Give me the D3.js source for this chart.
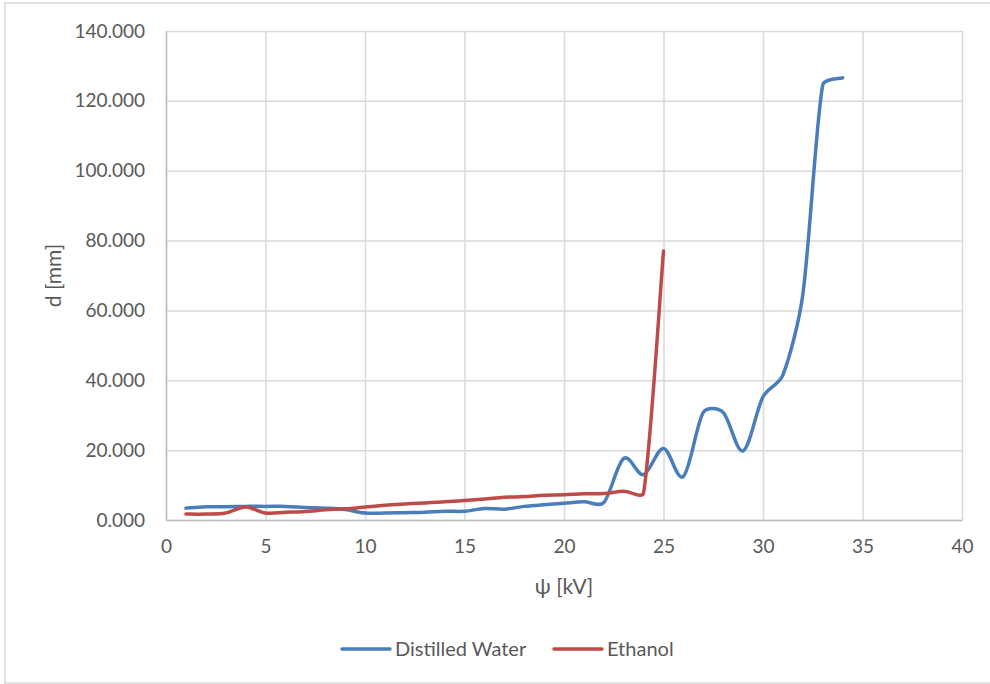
<!DOCTYPE html>
<html>
<head>
<meta charset="utf-8">
<script src="https://cdn.jsdelivr.net/npm/d3@7"></script>
<style>
  body { margin: 0; background: #fff; }
  svg text { font-family: Lato, "Open Sans", sans-serif; fill: #595959; }
</style>
</head>
<body>
<div id="chart"></div>
<script>
// x values in kV
const waterX = [1, 2, 3, 4, 5, 6, 7, 8, 9, 10, 11, 12, 13, 14, 15, 16, 17,
  18, 19, 20, 21, 22, 23, 24, 25, 26, 27, 28, 29, 30, 31, 32, 33, 34];
const waterY = [3.4, 3.8, 3.8, 3.9, 3.9, 3.9, 3.6, 3.4, 3.0, 2.0, 2.0, 2.1,
  2.2, 2.5, 2.5, 3.3, 3.1, 3.9, 4.4, 4.8, 5.2, 5.0, 17.6, 13.0, 20.5, 12.5,
  30.8, 30.8, 19.8, 35.3, 41.5, 64.5, 124.5, 126.6];
const ethanolX = [1, 2, 3, 4, 5, 6, 7, 8, 9, 10, 11, 12, 13, 14, 15, 16, 17,
  18, 19, 20, 21, 22, 23, 24, 25];
const ethanolY = [1.7, 1.7, 2.0, 3.7, 2.0, 2.2, 2.4, 2.9, 3.2, 3.7, 4.2, 4.6,
  4.9, 5.2, 5.6, 6.0, 6.5, 6.7, 7.1, 7.2, 7.5, 7.6, 8.2, 7.8, 77.0];
const xTicks = [0, 5, 10, 15, 20, 25, 30, 35, 40];
const yTicks = [0, 20, 40, 60, 80, 100, 120, 140];
const seriesNames = ["Distilled Water", "Ethanol"];
const seriesColors = ["#4a7ebb", "#be4b48"];

const W = 990, H = 684;
const margin = { top: 31, right: 28, bottom: 164, left: 166 };
const width = W - margin.left - margin.right;
const height = H - margin.top - margin.bottom;

const svg = d3.select("#chart").append("svg")
  .attr("width", W)
  .attr("height", H);

// outer chart frame
svg.append("rect")
  .attr("x", 5).attr("y", 3)
  .attr("width", W).attr("height", H - 4)
  .attr("fill", "none")
  .attr("stroke", "#d9d9d9")
  .attr("stroke-width", 1.5);

const x = d3.scaleLinear().domain([0, 40]).range([0, width]);
const y = d3.scaleLinear().domain([0, 140]).range([height, 0]);

const g = svg.append("g")
  .attr("transform", "translate(" + margin.left + "," + margin.top + ")");

// grid
g.append("g")
  .call(d3.axisBottom(x).tickValues(xTicks).tickSize(height).tickFormat(""))
  .call(s => s.select(".domain").remove())
  .selectAll("line").attr("stroke", "#d9d9d9").attr("stroke-width", 1.5);

g.append("g")
  .call(d3.axisLeft(y).tickValues(yTicks).tickSize(-width).tickFormat(""))
  .call(s => s.select(".domain").remove())
  .selectAll("line").attr("stroke", "#d9d9d9").attr("stroke-width", 1.5);

// axes
const xAxis = g.append("g")
  .attr("transform", "translate(0," + height + ")")
  .call(d3.axisBottom(x).tickValues(xTicks).tickSize(0).tickPadding(20));
xAxis.select(".domain").attr("stroke", "#bfbfbf").attr("stroke-width", 1.5);
xAxis.selectAll("text").style("font-size", "19px");

const yAxis = g.append("g")
  .call(d3.axisLeft(y).tickValues(yTicks).tickSize(0).tickPadding(21)
    .tickFormat(d3.format(".3f")));
yAxis.select(".domain").attr("stroke", "#bfbfbf").attr("stroke-width", 1.5);
yAxis.selectAll("text").style("font-size", "19px");

// axis titles
g.append("text")
  .attr("x", width / 2)
  .attr("y", height + 74)
  .attr("text-anchor", "middle")
  .style("font-size", "21px")
  .text("ψ [kV]");

g.append("text")
  .attr("transform", "rotate(-90)")
  .attr("x", -height / 2)
  .attr("y", -105)
  .attr("text-anchor", "middle")
  .style("font-size", "21px")
  .text("d [mm]");

// smoothed line like the spreadsheet one: catmull-rom arms (1/6 of the
// neighbour chord), each arm capped at a third of its own segment
function smoothPath(pts) {
  const p = d3.path();
  const n = pts.length;
  const arm = (i, seg) => {
    const a = pts[Math.max(i - 1, 0)], b = pts[Math.min(i + 1, n - 1)];
    let dx = (b[0] - a[0]) / 6, dy = (b[1] - a[1]) / 6;
    const len = Math.hypot(dx, dy);
    const max = Math.hypot(pts[seg + 1][0] - pts[seg][0],
      pts[seg + 1][1] - pts[seg][1]) / 3;
    if (len > max) { dx *= max / len; dy *= max / len; }
    return [dx, dy];
  };
  p.moveTo(pts[0][0], pts[0][1]);
  for (let i = 0; i < n - 1; i++) {
    const a1 = arm(i, i), a2 = arm(i + 1, i);
    p.bezierCurveTo(
      pts[i][0] + a1[0], pts[i][1] + a1[1],
      pts[i + 1][0] - a2[0], pts[i + 1][1] - a2[1],
      pts[i + 1][0], pts[i + 1][1]);
  }
  return p.toString();
}

const series = [
  d3.zip(waterX, waterY),
  d3.zip(ethanolX, ethanolY)
];

g.selectAll(".series")
  .data(series)
  .enter()
  .append("path")
  .attr("class", "series")
  .attr("fill", "none")
  .attr("stroke", (d, i) => seriesColors[i])
  .attr("stroke-width", 3.5)
  .attr("stroke-linecap", "round")
  .attr("d", d => smoothPath(d.map(v => [x(v[0]), y(v[1])])));

// legend
const legendX = [342, 554];
const legend = svg.append("g").attr("transform", "translate(0,649)");
seriesNames.forEach((name, i) => {
  legend.append("line")
    .attr("x1", legendX[i]).attr("x2", legendX[i] + 48)
    .attr("y1", 0).attr("y2", 0)
    .attr("stroke", seriesColors[i])
    .attr("stroke-width", 3.5)
    .attr("stroke-linecap", "round");
  legend.append("text")
    .attr("x", legendX[i] + 53)
    .attr("y", 7)
    .style("font-size", "20px")
    .text(name);
});
</script>
</body>
</html>
